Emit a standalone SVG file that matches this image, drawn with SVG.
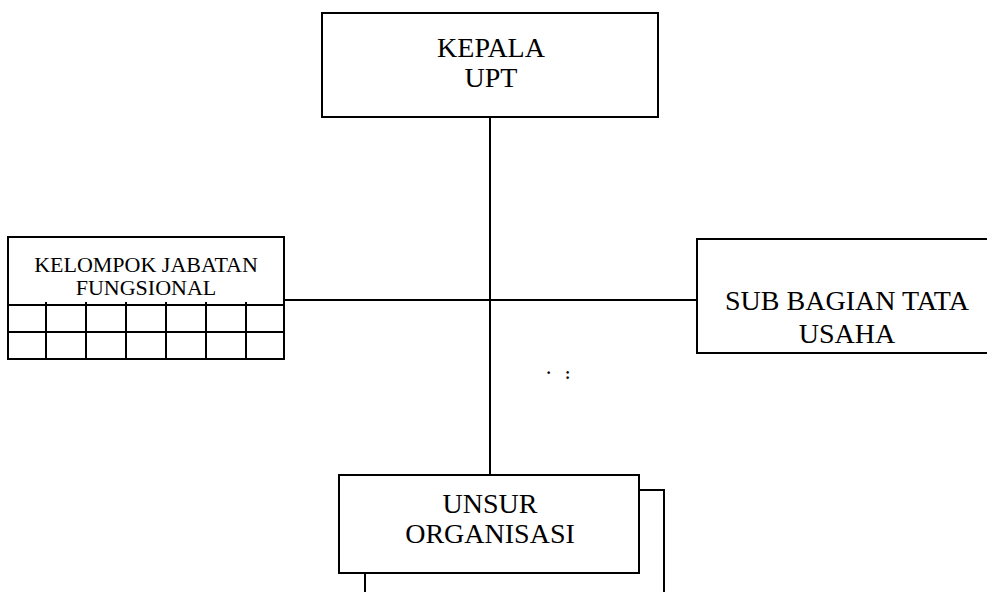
<svg xmlns="http://www.w3.org/2000/svg" width="987" height="592" viewBox="0 0 987 592">
<style>
.box{fill:#fff;stroke:#000;stroke-width:2}
.ln{stroke:#000;stroke-width:2;fill:none}
.t{font-family:"Liberation Serif","Times New Roman",serif;fill:#000;text-anchor:middle}
.big{font-size:28px}
.sm{font-size:22px}
.dot{font-family:"Liberation Serif","Times New Roman",serif;font-size:16px;font-weight:bold;fill:#000}
</style>
<rect width="987" height="592" fill="#fff"/>
<g id="connectors">
<line class="ln" x1="490" y1="117" x2="490" y2="475"/>
<line class="ln" x1="284" y1="300" x2="697" y2="300"/>
</g>
<g id="kepala">
<rect class="box" x="322" y="13" width="336" height="104"/>
<text class="t big" x="491" y="56.5">KEPALA</text>
<text class="t big" x="491" y="86.5">UPT</text>
</g>
<g id="kelompok">
<rect class="box" x="8" y="237" width="276" height="122"/>
<line class="ln" x1="8" y1="305" x2="284" y2="305"/>
<line class="ln" x1="8" y1="332" x2="284" y2="332"/>
<path class="ln" d="M46 302V359M86 302V359M126 302V359M166 302V359M206 302V359M246 302V359"/>
<text class="t sm" x="146" y="271.5">KELOMPOK JABATAN</text>
<text class="t sm" x="146" y="295">FUNGSIONAL</text>
</g>
<g id="subbagian">
<rect class="box" x="697" y="239" width="300" height="114"/>
<text class="t big" x="847" y="310">SUB BAGIAN TATA</text>
<text class="t big" x="847" y="343">USAHA</text>
</g>
<g id="unsur">
<path class="ln" d="M639 490H664V600M365 573V600"/>
<rect class="box" x="339" y="475" width="300" height="98"/>
<text class="t big" x="490" y="513">UNSUR</text>
<text class="t big" x="490" y="543">ORGANISASI</text>
</g>
<text class="dot" x="546" y="378">·</text>
<text class="dot" x="565" y="379">:</text>
</svg>
